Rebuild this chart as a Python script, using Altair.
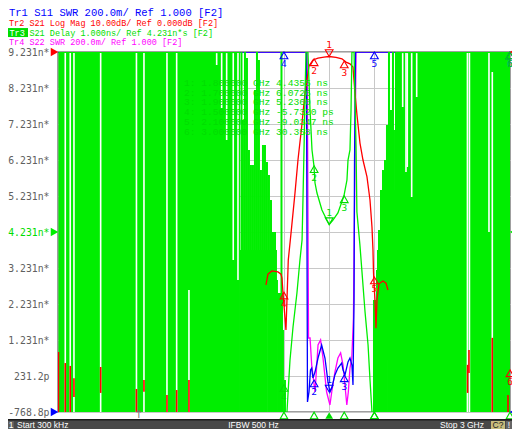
import altair as alt
import pandas as pd

GREEN = "#00ee00"
GREEN_TXT = "#00dd00"
RED = "#ff0000"
BLUE = "#0000ff"
MAGENTA = "#ff00ff"
GRAY_LABEL = "#606060"
GRID = "#c8c8c8"

# ---------------- axes ----------------
F_START_MHZ = 0.3
F_STOP_MHZ = 3000.0
Y_BOT = -0.7688          # ns, Tr3 scale (1 ns/div, ref 4.231 ns at centre)
Y_TOP = 9.2312
y_tick_values = [-0.7688, 0.2312, 1.2312, 2.2312, 3.2312, 4.2312,
                 5.2312, 6.2312, 7.2312, 8.2312, 9.2312]
y_tick_labels = ["-768.8p", "231.2p", "1.231n*", "2.231n*", "3.231n*", "4.231n*",
                 "5.231n*", "6.231n*", "7.231n*", "8.231n*", "9.231n*"]
x_grid_mhz = [300, 600, 900, 1200, 1500, 1800, 2100, 2400, 2700]

header_prefix = ["Tr1", "Tr2", "Tr3", "Tr4"]
header_rest = ["S11 SWR 200.0m/ Ref 1.000 [F2]",
               "S21 Log Mag 10.00dB/ Ref 0.000dB [F2]",
               "S21 Delay 1.000ns/ Ref 4.231n*s [F2]",
               "S22 SWR 200.0m/ Ref 1.000 [F2]"]
header_colors = [BLUE, RED, GREEN_TXT, MAGENTA]
status_texts = ["1", "Start 300 kHz", "IFBW 500 Hz", "Stop 3 GHz", "C?", "!"]

# ---------------- Tr3 delay (ns) inside the passband ----------------
green_curve_mhz = [1520, 1527, 1540, 1560, 1586, 1606, 1620, 1626, 1633, 1639,
                   1646, 1649, 1656, 1659, 1673, 1686, 1699, 1706, 1719, 1752,
                   1785, 1800, 1825, 1858, 1898, 1918, 1925, 1938, 1945, 1951,
                   1955, 1961, 1965, 1978, 1984, 2004, 2038, 2058, 2071, 2084]
green_curve_ns = [-0.769, -0.241, 0.675, 1.592, 2.536, 3.453, 4.009, 5.120, 6.509, 7.898,
                  9.231, 9.842, 9.842, 9.231, 7.620, 6.509, 6.070, 5.592, 5.314, 4.842,
                  4.560, 4.440, 4.564, 4.759, 5.236, 5.675, 6.231, 6.509, 7.620, 9.231,
                  9.842, 9.842, 9.231, 6.648, 4.787, 3.870, 2.009, 1.092, 0.120, -0.769]

# Tr3 noise outside the passband: solid columns, spikes and empty columns
band_f1_mhz = [3.3, 2236.7, 1208.0, 1208.0, 2090.7, 2117.2, 2143.8, 2177.0]
band_f2_mhz = [1208.0, 3000.0, 1453.5, 1493.3, 2236.7, 2236.7, 2236.7, 2236.7]
band_top_ns = [9.231, 9.231, 3.731, 2.536, 2.342, 3.731, 5.398, 7.064]

spike_mhz = [1217.9, 1227.8, 1241.1, 1254.4, 1267.7, 1280.9, 1294.2, 1307.5, 1320.8, 1334.0,
             1347.3, 1360.6, 1373.9, 1387.1, 1400.4, 1413.7, 1427.0, 1440.3, 1453.5, 1466.8,
             1483.4, 1493.3, 1506.6,
             2097.3, 2107.3, 2117.2, 2130.5, 2143.8, 2157.0, 2170.3, 2183.6, 2196.9, 2210.2, 2223.4]
spike_top_ns = [9.231, 7.342, 9.231, 9.064, 6.509, 6.092, 6.092, 8.175, 9.231, 9.009,
                5.953, 6.648, 6.648, 6.175, 5.814, 5.120, 4.231, 4.231, 2.898, 2.342,
                9.231, 1.509, 0.120,
                1.092, 1.231, 3.175, 4.287, 5.398, 5.953, 6.231, 7.203, 9.231, 7.620, 9.231]

gap_mhz = [48.5, 81.6, 106.2, 283.4, 521.0, 570.8, 723.4, 787.8, 869.4, 1053.3,
           1086.5, 1119.6, 1163.4, 1194.7, 1390.5, 1463.5, 2192.2, 2287.8, 2309.7, 2318.3,
           2347.5, 2380.7, 2717.5, 2730.8, 2860.5, 2882.5]
gap_top_ns = [9.2, 9.2, 9.2, 9.2, 9.2, 9.2, 9.2, 9.2, 2.620, 9.2,
              9.2, 9.2, 9.2, 9.2, 2.342, 1.787, 0.675, 9.2, 9.2, 9.2,
              9.2, 9.2, 9.2, 9.2, 9.2, 8.675]
gap_bot_ns = [-0.769, -0.769, -0.769, -0.769, -0.769, -0.769, -0.769, -0.769, -0.769, 8.870,
              7.675, 6.787, 3.453, 2.898, -0.769, -0.769, -0.769, 7.703, 5.898, 6.037,
              5.203, 7.981, -0.769, -0.769, 4.231, -0.769]

# ---------------- Tr2 S21 log mag (dB) ----------------
red_mhz = [1380.5, 1393.8, 1420.3, 1460.1, 1480.0, 1486.7, 1493.3, 1500.0, 1506.6,
           1513.2, 1519.9, 1528.5, 1551.1, 1573.0, 1592.9, 1617.4, 1639.3, 1652.6, 1665.9,
           1692.4, 1725.6, 1765.4, 1798.6, 1845.1, 1884.9, 1911.5, 1938.0, 1957.9, 1964.6,
           1971.2, 1984.5, 2004.4, 2024.3, 2050.9, 2070.8, 2084.0, 2090.7, 2094.0, 2097.3,
           2104.0, 2110.6, 2117.2, 2130.5, 2157.0, 2177.0, 2190.2]
red_db = [-64.7, -61.7, -60.8, -61.1, -61.7, -62.8, -66.7, -70.3, -73.9,
          -77.2, -68.9, -57.8, -48.5, -39.2, -30.0, -20.8, -11.4, -7.8, -3.9,
          -2.2, -1.7, -1.4, -1.25, -1.5, -1.9, -2.8, -3.3, -4.2, -7.8,
          -11.4, -17.5, -25.3, -30.0, -34.7, -41.1, -48.6, -55.0, -61.1, -64.2,
          -68.9, -76.7, -68.9, -64.4, -63.6, -64.2, -66.1]
red_spike_mhz = [3.3, 48.5, 81.6, 106.2, 283.4, 521.0, 570.8, 723.4, 787.8, 869.4,
                 2718.6, 2727.8, 2882.5, 2986.7]
red_spike_top_db = [-83.3, -86.4, -87.2, -90.6, -87.5, -93.6, -91.1, -95.3, -93.9, -91.1,
                    -86.9, -82.8, -79.4, -95.3]
red_spike_bot_db = [-100, -100, -100, -95.8, -94.7, -100, -94.4, -100, -100, -100,
                    -94.7, -89.2, -100, -100]

# ---------------- Tr1 S11 / Tr4 S22 SWR ----------------
blue_mhz = [0.3, 1649, 1656, 1666, 1676, 1684, 1692, 1706, 1726, 1750,
            1772, 1792, 1805, 1817, 1838, 1858, 1883, 1892, 1905, 1925,
            1938, 1951, 1958, 1965, 1968, 1975, 1978, 3000]
blue_swr = [5.0, 5.0, 1.056, 1.111, 1.233, 1.244, 1.189, 1.222, 1.300, 1.372,
            1.300, 1.167, 1.111, 1.133, 1.206, 1.244, 1.272, 1.233, 1.206, 1.278,
            1.300, 1.261, 1.150, 1.622, 2.372, 3.0, 5.0, 5.0]
mag_mhz = [0.3, 1654, 1663, 1673, 1684, 1706, 1726, 1743, 1759, 1783,
           1805, 1817, 1838, 1858, 1876, 1892, 1917, 1927, 1938, 1950,
           1961, 1971, 1978, 3000]
mag_swr = [5.0, 5.0, 1.411, 1.411, 1.261, 1.111, 1.372, 1.400, 1.300, 1.111,
           1.039, 1.111, 1.222, 1.300, 1.328, 1.261, 1.039, 1.111, 1.244, 1.300,
           1.522, 2.372, 5.0, 5.0]

# ---------------- markers ----------------
marker_mhz = [1800, 1700, 1900, 1500, 2100, 3000]
marker_delay_ns = [4.4355, 6.0726, 5.2360, -0.005732, -9.0347, 30.358]
marker_s21_db = [-1.25, -1.9, -2.5, -66.7, -62.5, -88.3]
marker_s11_swr = [1.111, 1.178, 1.206, 5.0, 5.0, 5.0]
cursor_mhz = [537.0]

ref_levels = [9.2312, 4.2312, -0.7688]
ref_colors = [RED, GREEN, BLUE]

# ---------------- helpers ----------------
xscale = alt.Scale(domain=[F_START_MHZ, F_STOP_MHZ], nice=False, zero=False)
yscale = alt.Scale(domain=[Y_BOT, Y_TOP], nice=False, zero=False)

label_expr = "'" + y_tick_labels[-1] + "'"
for t, lab in reversed(list(zip(y_tick_values[:-1], y_tick_labels[:-1]))):
    label_expr = f"datum.value < {t + 0.5:.4f} ? '{lab}' : ({label_expr})"

xaxis = alt.Axis(values=x_grid_mhz, labels=False, ticks=False, domain=False,
                 grid=True, gridColor=GRID, gridWidth=1, title=None)
yaxis = alt.Axis(values=y_tick_values, labelExpr=label_expr, ticks=False, domain=False,
                 grid=True, gridColor=GRID, gridWidth=1, title=None,
                 labelFont="DejaVu Sans Mono", labelFontSize=9.8, labelPadding=9,
                 labelFlush=False, labelOverlap=False,
                 labelColor={"condition": {"test": "abs(datum.value - 4.2312) < 0.01",
                                           "value": GREEN_TXT},
                             "value": GRAY_LABEL})


def X(field):
    return alt.X(field, type="quantitative", scale=xscale, axis=xaxis)


def Y(field):
    return alt.Y(field, type="quantitative", scale=yscale, axis=yaxis)


def label(txt, x, y, size, color, font="Liberation Mono", align="left"):
    return (alt.Chart().mark_text(font=font, fontSize=size, color=color,
                                  align=align, baseline="middle")
            .encode(x=alt.value(x), y=alt.value(y), text=alt.value(txt)))


def box(x1, x2, y1, y2, color):
    return (alt.Chart().mark_rect(color=color)
            .encode(x=alt.value(x1), x2=alt.value(x2), y=alt.value(y1), y2=alt.value(y2)))


CL = "clamp({}, -0.7688, 9.2312)"
E_NS = CL.format("datum.v")
E_DB = CL.format("9.2312 + datum.v / 10")
E_SWR = CL.format("-0.7688 + (datum.v - 1) / 0.2")

layers = []

# SWR traces (below the Tr3 noise)
for fx, vals, col in [(mag_mhz, mag_swr, MAGENTA), (blue_mhz, blue_swr, BLUE)]:
    df = pd.DataFrame({"f": fx, "v": vals, "i": range(len(fx))})
    layers.append(alt.Chart(df).transform_calculate(y=E_SWR)
                  .mark_line(color=col, strokeWidth=1.3, clip=True)
                  .encode(x=X("f"), y=Y("y"), order="i:Q"))

# Tr3 noise
bands = pd.DataFrame({"f1": band_f1_mhz, "f2": band_f2_mhz, "v": band_top_ns,
                      "b": [Y_BOT] * len(band_f1_mhz)})
layers.append(alt.Chart(bands).mark_rect(color=GREEN, clip=True)
              .encode(x=X("f1"), x2="f2:Q", y=Y("b"), y2="v:Q"))
gaps = pd.DataFrame({"f": gap_mhz, "t": gap_top_ns, "b": gap_bot_ns})
layers.append(alt.Chart(gaps).mark_rule(color="white", strokeWidth=1.6, clip=True)
              .encode(x=X("f"), y=Y("b"), y2="t:Q"))
spikes = pd.DataFrame({"f": spike_mhz, "t": spike_top_ns, "b": [Y_BOT] * len(spike_mhz)})
layers.append(alt.Chart(spikes).mark_rule(color=GREEN, strokeWidth=2, clip=True)
              .encode(x=X("f"), y=Y("b"), y2="t:Q"))

# S21
red_df = pd.DataFrame({"f": red_mhz, "v": red_db, "i": range(len(red_mhz))})
layers.append(alt.Chart(red_df).transform_calculate(y=E_DB)
              .mark_line(color=RED, strokeWidth=1.3, clip=True)
              .encode(x=X("f"), y=Y("y"), order="i:Q"))
rs = pd.DataFrame({"f": red_spike_mhz, "t": red_spike_top_db, "b": red_spike_bot_db})
layers.append(alt.Chart(rs)
              .transform_calculate(yt=CL.format("9.2312 + datum.t / 10"),
                                   yb=CL.format("9.2312 + datum.b / 10"))
              .mark_rule(color=RED, strokeWidth=1.6, clip=True)
              .encode(x=X("f"), y=Y("yb"), y2="yt:Q"))

# Delay curve
gc = pd.DataFrame({"f": green_curve_mhz, "v": green_curve_ns, "i": range(len(green_curve_mhz))})
layers.append(alt.Chart(gc).transform_calculate(y=E_NS)
              .mark_line(color=GREEN, strokeWidth=1.3, clip=True)
              .encode(x=X("f"), y=Y("y"), order="i:Q"))


# markers
def marker_layers(vals, expr, color):
    df = pd.DataFrame({"f": marker_mhz, "v": vals,
                       "lab": [str(i + 1) for i in range(len(marker_mhz))]})
    base = alt.Chart(df).transform_calculate(y=expr)
    act = base.transform_filter("datum.lab == '1'")
    ina = base.transform_filter("datum.lab != '1'")
    return [
        ina.mark_point(shape="triangle-up", filled=False, size=60, color=color,
                       strokeWidth=1.1, yOffset=3.4, opacity=1).encode(x=X("f"), y=Y("y")),
        ina.mark_text(font="DejaVu Sans Mono", fontSize=9.5, color=color, dy=12)
        .encode(x=X("f"), y=Y("y"), text="lab:N"),
        act.mark_point(shape="triangle-down", filled=False, size=60, color=color,
                       strokeWidth=1.1, yOffset=-3.4, opacity=1).encode(x=X("f"), y=Y("y")),
        act.mark_text(font="DejaVu Sans Mono", fontSize=9.5, color=color, dy=-12)
        .encode(x=X("f"), y=Y("y"), text="lab:N"),
    ]


layers += marker_layers(marker_s11_swr, E_SWR, BLUE)
layers += marker_layers(marker_s21_db, E_DB, RED)
layers += marker_layers(marker_delay_ns, E_NS, GREEN_TXT)

# stimulus triangles under the grid
stim = pd.DataFrame({"f": marker_mhz, "act": [1, 0, 0, 0, 0, 0]})
layers.append(alt.Chart(stim).transform_filter("datum.act == 0")
              .mark_point(shape="triangle-up", filled=False, size=60, color=GREEN_TXT,
                          strokeWidth=1.1, opacity=1)
              .encode(x=X("f"), y=alt.value(363.5)))
layers.append(alt.Chart(stim).transform_filter("datum.act == 1")
              .mark_point(shape="triangle-up", filled=True, size=60, color=GREEN_TXT, opacity=1)
              .encode(x=X("f"), y=alt.value(363.5)))
cur = pd.DataFrame({"f": cursor_mhz})
layers.append(alt.Chart(cur).mark_text(text="↑", font="DejaVu Sans", fontSize=11,
                                       color="#707070")
              .encode(x=X("f"), y=alt.value(363)))

# reference-level triangles both sides
refs = pd.DataFrame({"v": ref_levels, "c": ref_colors})
layers.append(alt.Chart(refs).mark_point(shape="triangle-right", filled=True, size=75, opacity=1)
              .encode(x=alt.value(-3.5), y=Y("v"), color=alt.Color("c:N", scale=None)))
layers.append(alt.Chart(refs).mark_point(shape="triangle-left", filled=True, size=75, opacity=1)
              .encode(x=alt.value(455.5), y=Y("v"), color=alt.Color("c:N", scale=None)))

# marker table
for k in range(len(marker_mhz)):
    v = marker_delay_ns[k]
    if abs(v) < 0.01:
        s, unit = f"{v * 1000:.4f}", "ps"
    elif abs(v) >= 10:
        s, unit = f"{v:.3f}", "ns"
    else:
        s, unit = f"{v:.4f}", "ns"
    row = f"{k + 1}:  {marker_mhz[k] / 1000:.6f} GHz {s:>7} {unit}"
    layers.append(label(row, 126, 30.7 + 9.8 * k, 9.6, GREEN_TXT))

# header lines (page y 8..47 available above the plot)
hsize = [10.5, 8.5, 8.5, 8.5]
hy = [-39.25, -28.8, -19.45, -10.1]
for k in range(4):
    w = 0.6 * hsize[k]
    if k == 2:
        layers.append(box(-50, -30, hy[k] - 4.5, hy[k] + 4.5, GREEN_TXT))
        layers.append(label(header_prefix[k], -48.5, hy[k], hsize[k], "white"))
    else:
        layers.append(label(header_prefix[k], -49, hy[k], hsize[k], header_colors[k]))
    layers.append(label(header_rest[k], -49 + 4 * w, hy[k], hsize[k], header_colors[k]))

# status bar (page bottom)
layers.append(box(-50, 454, 367, 377, "#484848"))
layers.append(box(-50, 454, 367, 368.5, "#1c1c1c"))
layers.append(box(-50, -44, 369, 377, "#5e5e5e"))
layers.append(box(433, 447, 369, 377, "#c8bc7c"))
layers.append(box(448, 454, 369, 377, "#666666"))
sx = [-47, -41, 195.5, 426, 440, 451]
sal = ["center", "left", "center", "right", "center", "center"]
scol = ["white", "white", "white", "white", "#222222", "white"]
for t, xx, al, col in zip(status_texts, sx, sal, scol):
    layers.append(label(t, xx, 372.5, 8.5, col, font="Liberation Sans", align=al))

chart = alt.layer(*layers).properties(
    width=452, height=360,
    autosize=alt.AutoSizeParams(type="none"),
    padding={"left": 50, "top": 44, "right": 2, "bottom": 17},
).configure_view(stroke="#808080", strokeWidth=1.5)

chart.save("out.html", embed_options={"renderer": "svg", "actions": False})
